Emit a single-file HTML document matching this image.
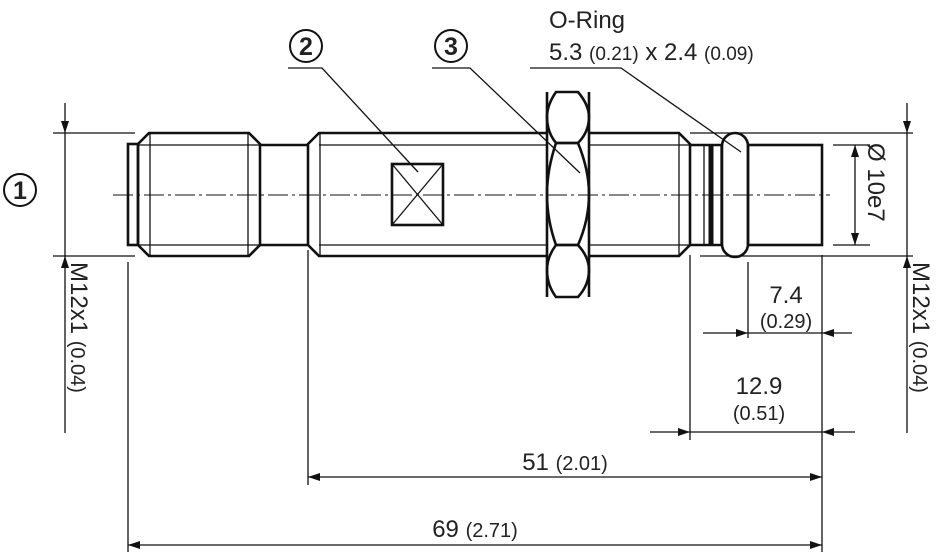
<!DOCTYPE html>
<html><head><style>
html,body{margin:0;padding:0;background:#fff;width:940px;height:555px;overflow:hidden}
svg{display:block}
text{font-family:"Liberation Sans","DejaVu Sans",sans-serif;font-weight:normal;fill:#222;stroke:none}
</style></head><body>
<svg width="940" height="555" viewBox="0 0 940 555" xmlns="http://www.w3.org/2000/svg">
<defs>
<marker id="a" viewBox="0 0 12 8" refX="12" refY="4" markerWidth="12" markerHeight="8" markerUnits="userSpaceOnUse" orient="auto"><path d="M0,0 L12,4 L0,8 z" fill="#111"/></marker>
</defs>
<g stroke="#111" fill="none">
<line x1="113" y1="195" x2="830" y2="195" stroke-width="1" stroke-dasharray="20,4,3,4"/>
<g stroke-width="2.6">
<rect x="128" y="144" width="10" height="101"/>
<path d="M138,144 L149,133 L249,133 L260,144 L260,245 L249,256 L149,256 L138,245 Z"/>
<path d="M260,145 L308,145 M260,245 L308,245"/>
<path d="M308,245 L308,144 L319,133 L548,133 M308,245 L319,256 L548,256"/>
<rect x="392" y="164" width="51" height="61"/>
<path d="M556,92 L578,92 Q589,105 589,117 Q589,132 578,143 L556,143 Q547,132 547,117 Q547,105 556,92 Z"/>
<path d="M556,143 L578,143 Q589,170 589,194 Q589,220 578,245 L556,245 Q547,220 547,194 Q547,170 556,143 Z"/>
<path d="M556,245 L578,245 Q589,257 589,270 Q589,285 578,297 L556,297 Q547,285 547,270 Q547,257 556,245 Z"/>
<path d="M547,92 L547,297 M589,92 L589,297"/>
<path d="M589,133 L679,133 L690,144 L690,245 L679,256 L589,256"/>
<path d="M690,145 L722,145 M690,245 L722,245"/>
<rect x="722" y="133" width="26" height="124" rx="13"/>
<rect x="748" y="145" width="74" height="100"/>
</g>
<g stroke-width="5"><line x1="711" y1="145" x2="711" y2="245"/></g>
<g stroke-width="1.3">
<path d="M138,145 L260,145 M138,245 L260,245 M150,133 L150,256 M248,133 L248,256"/>
<path d="M319,145 L548,145 M319,245 L548,245 M320,133 L320,256"/>
<path d="M392,164 L443,225 M443,164 L392,225"/>
<path d="M589,145 L690,145 M589,245 L690,245 M679,133 L679,256 M704,145 L704,245 M721,145 L721,245"/>
<path d="M288,68 L322,68 L418,172"/>
<path d="M432,68 L470,68 L580,173"/>
<path d="M530,68 L621,68 L741,152"/>
<path d="M53,133 L135,133 M53,256 L135,256"/>
<line x1="65" y1="103" x2="65" y2="133" marker-end="url(#a)"/>
<line x1="65" y1="433" x2="65" y2="256" marker-end="url(#a)"/>
<line x1="65" y1="133" x2="65" y2="256"/>
<path d="M690,133 L913,133 M700,256 L913,256"/>
<line x1="907" y1="103" x2="907" y2="133" marker-end="url(#a)"/>
<line x1="907" y1="433" x2="907" y2="256" marker-end="url(#a)"/>
<line x1="907" y1="133" x2="907" y2="256"/>
<path d="M833,145 L870,145 M833,245 L870,245"/>
<line x1="855" y1="195" x2="855" y2="145" marker-end="url(#a)"/>
<line x1="855" y1="195" x2="855" y2="245" marker-end="url(#a)"/>
<path d="M128,262 L128,552 M308,250 L308,485 M822,255 L822,552 M690,255 L690,440 M748,262 L748,338"/>
<line x1="703" y1="333" x2="748" y2="333" marker-end="url(#a)"/>
<line x1="852" y1="333" x2="822" y2="333" marker-end="url(#a)"/>
<line x1="748" y1="333" x2="822" y2="333"/>
<line x1="650" y1="432" x2="690" y2="432" marker-end="url(#a)"/>
<line x1="855" y1="432" x2="822" y2="432" marker-end="url(#a)"/>
<line x1="690" y1="432" x2="822" y2="432"/>
<line x1="565" y1="477" x2="308" y2="477" marker-end="url(#a)"/>
<line x1="565" y1="477" x2="822" y2="477" marker-end="url(#a)"/>
<line x1="475" y1="545" x2="128" y2="545" marker-end="url(#a)"/>
<line x1="475" y1="545" x2="822" y2="545" marker-end="url(#a)"/>
</g>
<g stroke="#111" stroke-width="2" fill="none">
<circle cx="20" cy="190" r="16"/>
<circle cx="306" cy="46" r="16"/>
<circle cx="451" cy="46" r="16"/>
</g>
<g font-size="25" text-anchor="middle">
<text x="20" y="199" style="font-weight:bold">1</text>
<text x="306" y="55" style="font-weight:bold">2</text>
<text x="451" y="55" style="font-weight:bold">3</text>
</g>
<text x="549" y="28" font-size="24">O-Ring</text>
<text x="549" y="60" font-size="24">5.3 <tspan font-size="19">(0.21)</tspan> x 2.4 <tspan font-size="19">(0.09)</tspan></text>
<text x="786" y="303" font-size="24" text-anchor="middle">7.4</text>
<text x="786" y="328" font-size="20" text-anchor="middle">(0.29)</text>
<text x="759" y="394" font-size="24" text-anchor="middle">12.9</text>
<text x="759" y="420" font-size="20" text-anchor="middle">(0.51)</text>
<text x="565" y="470" font-size="24" text-anchor="middle">51 <tspan font-size="20">(2.01)</tspan></text>
<text x="475" y="537" font-size="24" text-anchor="middle">69 <tspan font-size="20">(2.71)</tspan></text>
<text transform="translate(71,262) rotate(90)" font-size="24">M12x1 <tspan font-size="20">(0.04)</tspan></text>
<text transform="translate(913,262) rotate(90)" font-size="24">M12x1 <tspan font-size="20">(0.04)</tspan></text>
<text transform="translate(868,143) rotate(90)" font-size="24">Ø 10e7</text>
</svg>
</body></html>
